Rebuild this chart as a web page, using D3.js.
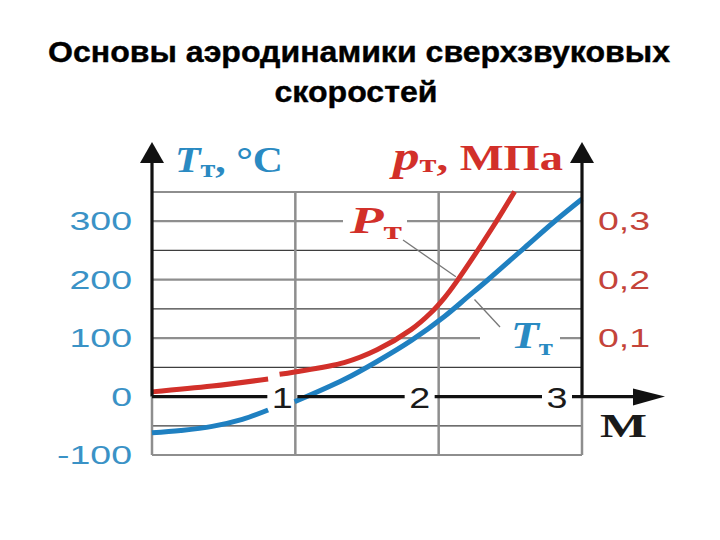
<!DOCTYPE html>
<html>
<head>
<meta charset="utf-8">
<script src="https://cdn.jsdelivr.net/npm/d3@7"></script>
<style>
body { margin: 0; background: #fff; }
</style>
</head>
<body>
<svg id="chart" width="720" height="540"></svg>
<script>
'use strict'

const titleLines = ['Основы аэродинамики сверхзвуковых', 'скоростей']
const tempTicks = [300, 200, 100, 0, -100]
const tempTickLabels = ['300', '200', '100', '0', '-100']
const pressTicks = [0.3, 0.2, 0.1]
const pressTickLabels = ['0,3', '0,2', '0,1']
const gridTemps = [350, 300, 250, 200, 150, 100, 50, -50, -100]
const machTicks = [1, 2, 3]
const machTickLabels = ['1', '2', '3']
const machGrid = [1, 2]

// p_T, MPa (red) - broken where the "1" label sits
const pressSeg1 = [[0, 0.008], [0.42, 0.018], [0.81, 0.03]]
const pressSeg2 = [[0.89, 0.038], [0.995, 0.042], [1.34, 0.058], [1.57, 0.08], [1.81, 0.115],
	[1.94, 0.142], [2.04, 0.169], [2.12, 0.195], [2.38, 0.291], [2.53, 0.351]]
// T_T, °C (blue)
const tempSeg1 = [[0, -62], [0.2, -58], [0.42, -51], [0.63, -39], [0.81, -23]]
const tempSeg2 = [[0.995, -9], [1.34, 29], [1.57, 60], [1.81, 96], [2.04, 137], [2.2, 170],
	[2.34, 199], [2.6, 255], [2.81, 300], [3.0, 338]]

const RED = '#d2302a'
const BLUE = '#1f80c1'
const serif = '"Liberation Serif", "DejaVu Serif", serif'
const sans = '"Liberation Sans", Arial, sans-serif'

const svg = d3.select('#chart')

const x = d3.scaleLinear().domain([0, 3]).range([152, 582])
const yT = d3.scaleLinear().domain([-100, 350]).range([455, 192])
const yP = d3.scaleLinear().domain([0, 0.35]).range([yT(0), yT(350)])

// title
svg.selectAll('.title').data(titleLines).enter().append('text')
	.attr('class', 'title')
	.attr('x', (d, i) => i === 0 ? 359 : 356)
	.attr('y', (d, i) => 62 + i * 40)
	.attr('text-anchor', 'middle')
	.attr('font-family', sans)
	.attr('font-weight', 'bold')
	.attr('font-size', 30)
	.attr('stroke', '#000').attr('stroke-width', 0.4)
	.attr('textLength', (d, i) => i === 0 ? 622 : 163)
	.attr('lengthAdjust', 'spacingAndGlyphs')
	.text(d => d)

// grid
let grid = svg.append('g').attr('class', 'grid')
grid.selectAll('.h').data(gridTemps).enter().append('line')
	.attr('x1', x(0)).attr('x2', x(3))
	.attr('y1', d => yT(d)).attr('y2', d => yT(d))
	.attr('stroke', d => (d % 100 === 0 || d === 350) ? '#8e8e8e' : '#3e3e3e')
	.attr('stroke-width', d => (d % 100 === 0 || d === 350) ? 2.2 : 1.3)
grid.selectAll('.v').data(machGrid).enter().append('line')
	.attr('x1', d => x(d)).attr('x2', d => x(d))
	.attr('y1', yT(350)).attr('y2', yT(-100))
	.attr('stroke', '#8e8e8e').attr('stroke-width', 2.5)
grid.selectAll('.b').data([0, 3]).enter().append('line')
	.attr('x1', d => x(d)).attr('x2', d => x(d))
	.attr('y1', yT(0)).attr('y2', yT(-100))
	.attr('stroke', '#8e8e8e').attr('stroke-width', 2.5)

// white boxes behind the curve labels
svg.append('rect').attr('x', 343).attr('y', 205).attr('width', 64).attr('height', 38).attr('fill', '#fff')
svg.append('rect').attr('x', 480).attr('y', 320).attr('width', 80).attr('height', 38).attr('fill', '#fff')

// leaders
svg.append('line')
	.attr('x1', 403).attr('y1', 240)
	.attr('x2', x(2.12)).attr('y2', yP(0.205))
	.attr('stroke', '#777').attr('stroke-width', 1.3)
svg.append('line')
	.attr('x1', 500).attr('y1', 327)
	.attr('x2', x(2.25)).attr('y2', yT(166))
	.attr('stroke', '#777').attr('stroke-width', 1.3)

// curves
const pLine = d3.line().x(d => x(d[0])).y(d => yP(d[1])).curve(d3.curveCatmullRom.alpha(0.5))
const tLine = d3.line().x(d => x(d[0])).y(d => yT(d[1])).curve(d3.curveCatmullRom.alpha(0.5))
svg.selectAll('.pcurve').data([pressSeg1, pressSeg2]).enter().append('path')
	.attr('d', pLine).attr('fill', 'none').attr('stroke', RED).attr('stroke-width', 5)
svg.selectAll('.tcurve').data([tempSeg1, tempSeg2]).enter().append('path')
	.attr('d', tLine).attr('fill', 'none').attr('stroke', BLUE).attr('stroke-width', 5)

// axes
svg.selectAll('.yaxis').data([0, 3]).enter().append('line')
	.attr('x1', d => x(d)).attr('x2', d => x(d))
	.attr('y1', yT(0)).attr('y2', 160)
	.attr('stroke', '#111').attr('stroke-width', 3.2)
svg.selectAll('.yarrow').data([0, 3]).enter().append('path')
	.attr('d', d => 'M' + x(d) + ',142L' + (x(d) + 12) + ',163L' + (x(d) - 12) + ',163Z')
	.attr('fill', '#111')

// zero line, broken around the M labels
const labelShift = [13, 19, 25]
const labelX = machTicks.map((d, i) => x(d) - labelShift[i])
let stops = [x(0)]
labelX.forEach(c => { stops.push(c - 15); stops.push(c + 15) })
stops.push(640)
let segs = []
for (let i = 0; i < stops.length; i += 2) segs.push([stops[i], stops[i + 1]])
svg.selectAll('.zero').data(segs).enter().append('line')
	.attr('x1', d => d[0]).attr('x2', d => d[1])
	.attr('y1', yT(0)).attr('y2', yT(0))
	.attr('stroke', '#111').attr('stroke-width', 3.2)
svg.append('path')
	.attr('d', 'M665,' + yT(0) + 'L633,' + (yT(0) - 8) + 'L633,' + (yT(0) + 9) + 'Z')
	.attr('fill', '#111')

svg.selectAll('.mlabel').data(machTickLabels).enter().append('text')
	.attr('transform', (d, i) => 'translate(' + labelX[i] + ',' + (yT(0) + 11) + ') scale(1.3,1)')
	.attr('text-anchor', 'middle')
	.attr('font-family', sans).attr('font-size', 29).attr('fill', '#1a1a1a')
	.text(d => d)

svg.append('text')
	.attr('x', 600).attr('y', 437)
	.attr('font-family', serif).attr('font-weight', 'bold').attr('font-size', 34)
	.attr('textLength', 47).attr('lengthAdjust', 'spacingAndGlyphs')
	.attr('fill', '#1a1a1a')
	.text('M')

// tick labels
svg.selectAll('.tlabel').data(tempTicks).enter().append('text')
	.attr('transform', d => 'translate(132,' + (yT(d) + 9) + ') scale(1.5,1)')
	.attr('text-anchor', 'end')
	.attr('font-family', sans).attr('font-size', 25).attr('fill', '#3a92c6')
	.text((d, i) => tempTickLabels[i])
svg.selectAll('.plabel').data(pressTicks).enter().append('text')
	.attr('transform', d => 'translate(598,' + (yP(d) + 9) + ') scale(1.5,1)')
	.attr('font-family', sans).attr('font-size', 25).attr('fill', '#c4443a')
	.text((d, i) => pressTickLabels[i])

// axis titles
let tTitle = svg.append('text')
	.attr('x', 175).attr('y', 172)
	.attr('font-family', serif).attr('font-weight', 'bold').attr('fill', '#2a8ac2')
	.attr('textLength', 108).attr('lengthAdjust', 'spacingAndGlyphs')
tTitle.append('tspan').attr('font-style', 'italic').attr('font-size', 36).text('T')
tTitle.append('tspan').attr('font-size', 26).attr('dy', 5).text('т')
tTitle.append('tspan').attr('font-size', 36).attr('dy', -5).text(', °C')

let pTitle = svg.append('text')
	.attr('x', 393).attr('y', 170)
	.attr('font-family', serif).attr('font-weight', 'bold').attr('fill', RED)
	.attr('textLength', 170).attr('lengthAdjust', 'spacingAndGlyphs')
pTitle.append('tspan').attr('font-style', 'italic').attr('font-size', 40).text('p')
pTitle.append('tspan').attr('font-size', 26).attr('dy', 2).text('т')
pTitle.append('tspan').attr('font-size', 35).attr('dy', -2).text(', МПа')

// curve labels
let pLab = svg.append('text')
	.attr('x', 350).attr('y', 233)
	.attr('font-family', serif).attr('font-weight', 'bold').attr('fill', RED)
	.attr('textLength', 52).attr('lengthAdjust', 'spacingAndGlyphs')
pLab.append('tspan').attr('font-style', 'italic').attr('font-size', 38).text('P')
pLab.append('tspan').attr('font-size', 26).attr('dy', 6).text('т')

let tLab = svg.append('text')
	.attr('x', 511).attr('y', 348)
	.attr('font-family', serif).attr('font-weight', 'bold').attr('fill', '#2a8ac2')
	.attr('textLength', 42).attr('lengthAdjust', 'spacingAndGlyphs')
tLab.append('tspan').attr('font-style', 'italic').attr('font-size', 38).text('T')
tLab.append('tspan').attr('font-size', 24).attr('dy', 7).text('т')
</script>
</body>
</html>
